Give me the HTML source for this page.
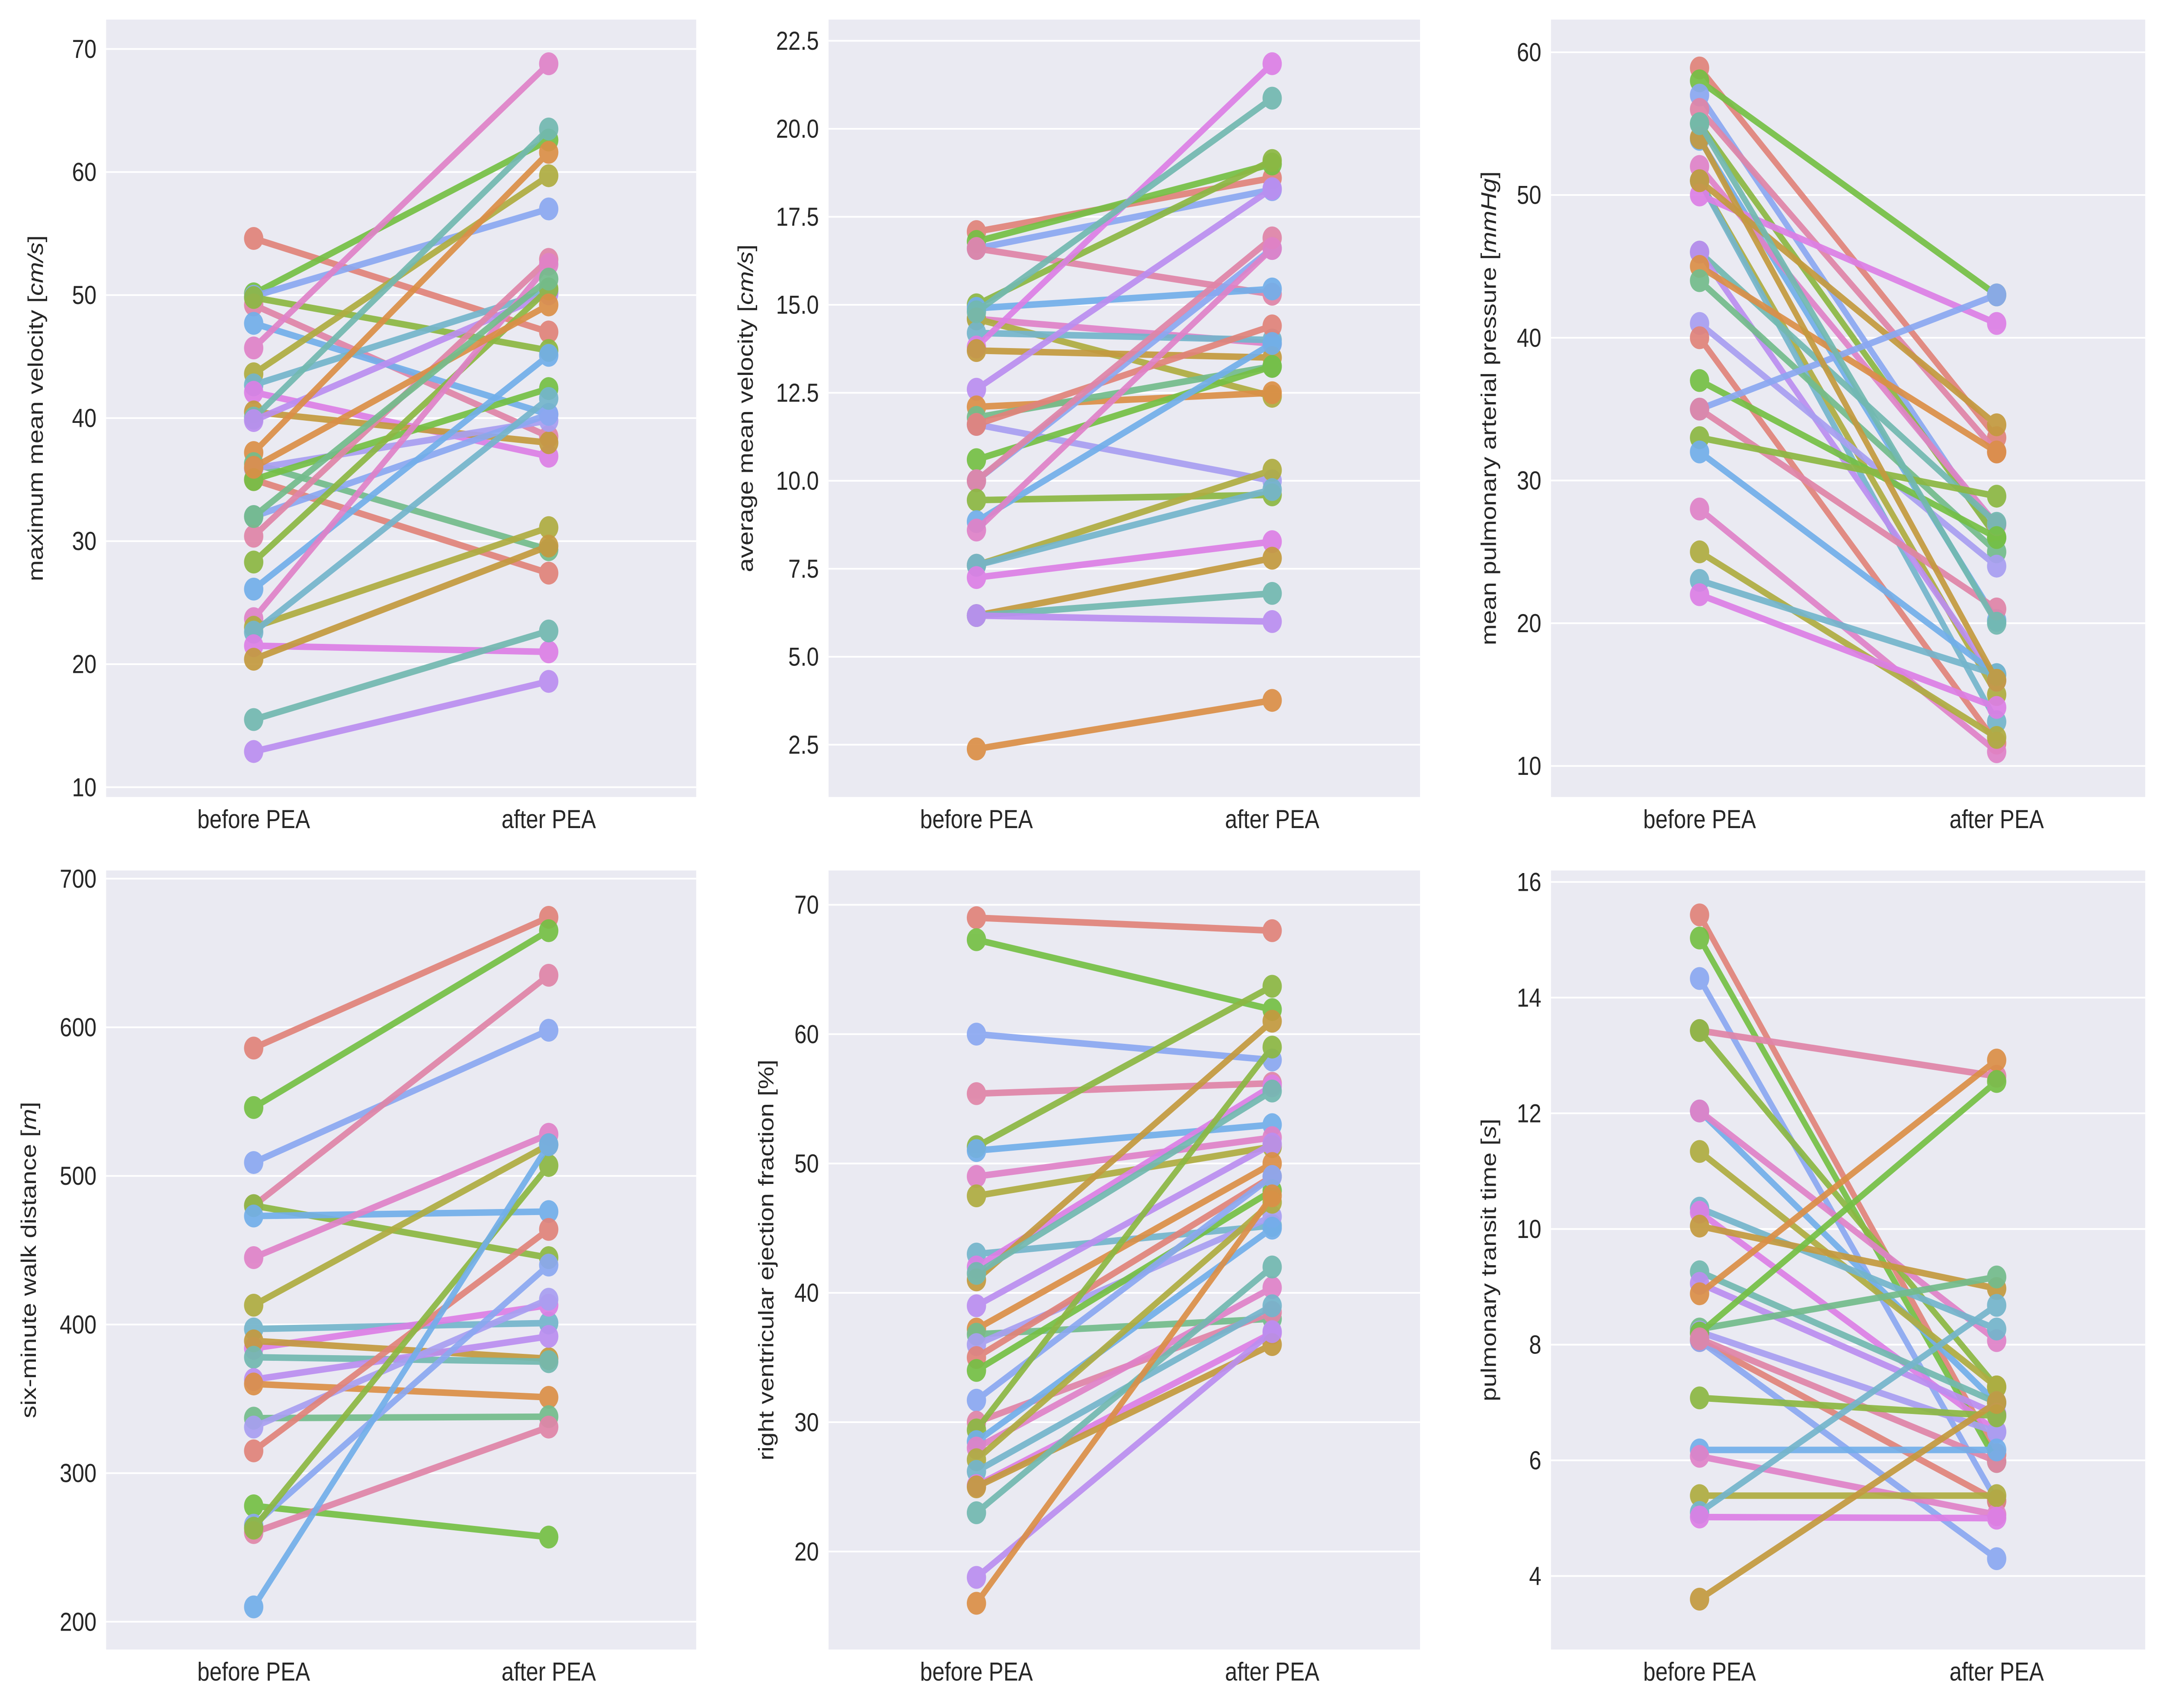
<!DOCTYPE html>
<html><head><meta charset="utf-8"><style>
html,body{margin:0;padding:0;background:#fff;width:100%;height:100%;overflow:hidden}
svg{display:block;position:fixed;left:0;top:0;width:100vw;height:100vh}
text{font-family:"Liberation Sans","DejaVu Sans",sans-serif;fill:#262626}
</style></head><body>
<svg id="fig" xmlns="http://www.w3.org/2000/svg" viewBox="0 0 5923 3950" preserveAspectRatio="none"></svg>
<script>
const categories = ["before PEA", "after PEA"];
const p1Ticks = [10,20,30,40,50,60,70];
const p1Before = [54.6,50.1,49.9,49.2,49.8,47.7,45.7,43.6,42.7,42.1,40.5,40.0,39.8,37.2,36.3,35.9,35.0,35.0,32.0,30.4,28.3,26.1,23.7,23.0,22.6,21.5,20.4,15.5,12.9,36.0,32.0];
const p1After  = [47.0,62.6,57.0,38.5,45.5,40.3,68.8,59.7,50.3,36.9,38.0,63.5,50.1,61.6,29.3,39.8,27.4,42.4,40.3,52.9,50.5,45.1,52.5,31.1,41.6,21.0,29.6,22.7,18.6,49.2,51.3];
const p2Ticks = [2.5,5.0,7.5,10.0,12.5,15.0,17.5,20.0,22.5];
const p2Before = [17.08,16.8,16.6,16.6,15.0,14.9,14.6,14.6,14.2,13.8,13.7,14.8,12.6,12.1,11.8,11.6,11.6,10.6,10.0,10.0,9.45,8.84,8.6,7.6,7.6,7.25,6.17,6.17,6.17,2.38];
const p2After  = [18.6,19.0,18.27,15.3,19.1,15.45,13.9,12.4,14.0,21.85,13.5,20.87,18.3,12.5,13.25,10.0,14.4,13.25,16.6,16.9,9.6,13.9,16.6,10.3,9.75,8.27,7.8,6.8,6.0,3.76];
const p3Ticks = [10,20,30,40,50,60];
const p3Before = [58.9,58,57,56,55,53.9,52,51,51,50,51,46,46,45,44,41,40,37,35,35,33,32,28,25,23,22,54,55];
const p3After  = [33,43,26,32,26,20.2,26.9,15,13.1,41,33.9,27,16,32,25,24,11.6,26,43,21,28.9,16.4,11,12,16.4,14.1,16,20];
const p4Ticks = [200,300,400,500,600,700];
const p4Before = [586,546,509,480,480,473,445,413,397,384,389,378,363,360,337,331,315,278,265,260,263,210];
const p4After  = [674,665,598,635,445,476,528,521,401,413,377,375,392,351,338,417,464,257,440,331,507,521];
const p5Ticks = [20,30,40,50,60,70];
const p5Before = [69,67.3,60,55.4,51.3,51,49,47.5,43,42,41,41.5,39,37.2,36.8,36,35,34,31.7,30,29.4,28.5,28,27.1,26.2,25.1,25,23,18,16];
const p5After  = [68,61.9,58,56.2,63.7,53,52,51.3,45.2,56,61,55.6,51.5,50,38,45.9,49,47.9,49,38.5,59,45,40.4,47,39,36.9,36,42,37,47.5];
const p6Ticks = [4,6,8,10,12,14,16];
const p6Before = [15.43,15.03,14.33,13.43,13.43,12.04,12.04,11.34,10.36,10.29,10.05,9.26,9.06,8.88,8.27,8.22,8.07,8.2,8.07,8.1,7.08,6.18,6.07,5.39,5.1,5.02,3.6];
const p6After  = [6.1,5.98,5.3,12.64,7.27,6.99,8.07,7.27,8.27,6.5,8.97,7.0,6.8,12.92,9.17,6.49,5.3,12.55,4.3,5.98,6.77,6.18,5.06,5.39,8.68,5.0,7.0];

const palette = ["#e1837a","#db8f47","#c49a3f","#afad41","#8cb843","#75c045","#73bc8c","#72b9b0","#74b5cc","#72afea","#8ba8f1","#a89ff1","#bb8ef0","#dc7fe5","#e082c8","#e085a8"];
const NS = "http://www.w3.org/2000/svg";
const S = 3.777;
const fig = document.getElementById('fig');
function mk(tag, attrs, parent){const e=document.createElementNS(NS,tag);for(const k in attrs)e.setAttribute(k,attrs[k]);parent.appendChild(e);return e;}

const panels = [
 {name:"max-mean-velocity", x0:77,x1:505,y0:12,y1:488, ref:[70,30,10,482], ticks:p1Ticks, dec:0, b:p1Before, a:p1After, lab:["maximum mean velocity [","cm/s","]"], lx:31},
 {name:"avg-mean-velocity", x0:601,x1:1030,y0:12,y1:488, ref:[22.5,25,2.5,456], ticks:p2Ticks, dec:1, b:p2Before, a:p2After, lab:["average mean velocity [","cm/s","]"], lx:546},
 {name:"mean-pulmonary-pressure", x0:1125,x1:1556,y0:12,y1:488, ref:[60,32,10,469], ticks:p3Ticks, dec:0, b:p3Before, a:p3After, lab:["mean pulmonary arterial pressure [","mmHg","]"], lx:1085},
 {name:"six-minute-walk", x0:77,x1:505,y0:533,y1:1010, ref:[700,538,200,993], ticks:p4Ticks, dec:0, b:p4Before, a:p4After, lab:["six-minute walk distance [","m","]"], lx:26},
 {name:"rv-ejection-fraction", x0:601,x1:1030,y0:533,y1:1010, ref:[70,554,20,950], ticks:p5Ticks, dec:0, b:p5Before, a:p5After, lab:["right ventricular ejection fraction [%]","",""], lx:561},
 {name:"pulmonary-transit-time", x0:1125,x1:1556,y0:533,y1:1010, ref:[16,540,4,965], ticks:p6Ticks, dec:0, b:p6Before, a:p6After, lab:["pulmonary transit time [","s","]"], lx:1085}
];

panels.forEach(p=>{
  const g = mk('g',{},fig);
  
  
  const yS = v => S*(p.ref[1] + (v - p.ref[0])*(p.ref[3]-p.ref[1])/(p.ref[2]-p.ref[0]));
  const xS = i => S*(p.x0 + (p.x1-p.x0)*(0.25 + 0.5*i));
  const bg = mk('rect',{x:S*p.x0,y:S*p.y0,width:S*(p.x1-p.x0),height:S*(p.y1-p.y0),fill:"#eaeaf2"},g);
  
  
  p.ticks.forEach(t=>{
    const y=yS(t);
    const gl=mk('line',{x1:S*p.x0,x2:S*p.x1,y1:y,y2:y,stroke:"#fff","stroke-width":4},g);
    
    
    const tl=mk('text',{x:S*(p.x0-7),y:y+S*5.5,"text-anchor":"end","font-size":S*16},g);
    tl.textContent = t.toFixed(p.dec);
    
    
  });
  categories.forEach((c,i)=>{
    const xl=mk('text',{x:xS(i),y:S*(p.y1+19),"text-anchor":"middle","font-size":S*16},g);
    xl.textContent=c;
    
    
  });
  const cx=S*p.lx, cy=S*(p.y0+p.y1)/2;
  const yl=mk('text',{x:cx,y:cy,"text-anchor":"middle","font-size":S*15.5,transform:`rotate(-90 ${cx} ${cy})`},g);
  
  
  const t1=mk('tspan',{},yl); t1.textContent=p.lab[0];
  if(p.lab[1]){const t2=mk('tspan',{"font-style":"italic"},yl); t2.textContent=p.lab[1]; const t3=mk('tspan',{},yl); t3.textContent=p.lab[2];}
  p.b.forEach((bv,i)=>{
    const col=palette[(i*5)%palette.length];
    const sg=mk('g',{opacity:0.92},g);
    
    
    const ln=mk('line',{x1:xS(0),y1:yS(bv),x2:xS(1),y2:yS(p.a[i]),stroke:col,"stroke-width":S*4},sg);
    
    
    [bv,p.a[i]].forEach((v,j)=>{
      const c=mk('circle',{cx:xS(j),cy:yS(v),r:S*7,fill:col},sg);
      
      
    });
  });
});
</script>
</body></html>
